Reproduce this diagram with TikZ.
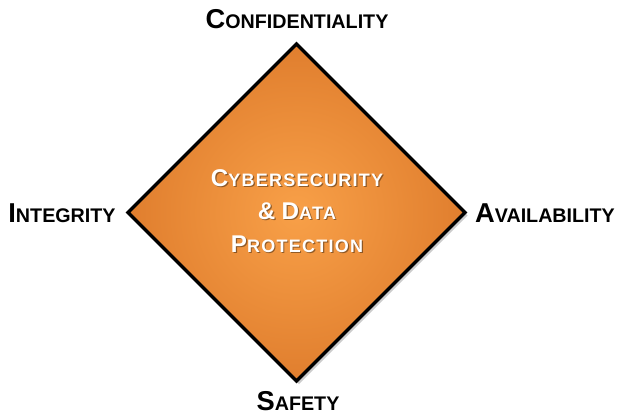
\documentclass[tikz,border=0pt]{standalone}
\usepackage{fontspec}
\setmainfont{Liberation Sans}
\definecolor{orangeC}{HTML}{F8A048}
\definecolor{orangeE}{HTML}{E07E2E}
\newcommand\Lbig[1]{{\fontsize{27.3}{30}\selectfont #1}}
\newcommand\Cbig[1]{{\fontsize{24.2}{33}\selectfont #1}}
\tikzset{
  outerlabel/.style={font=\fontsize{19.7}{22}\selectfont\bfseries, inner sep=0pt, anchor=base},
  centertext/.style={font=\fontsize{18}{33}\selectfont\bfseries\addfontfeature{LetterSpace=7}, align=center, inner sep=0pt, anchor=base},
}
\begin{document}
\begin{tikzpicture}[x=1pt,y=-1pt]
\useasboundingbox (0,0) rectangle (618,415);
\coordinate (T) at (296.5,44);
\coordinate (R) at (465,212.5);
\coordinate (B) at (296.5,381);
\coordinate (L) at (128,212.5);
% shadow
\fill[black,opacity=0.2] ([shift={(2.5,3)}]T) -- ([shift={(2.5,3)}]R) -- ([shift={(2.5,3)}]B) -- ([shift={(2.5,3)}]L) -- cycle;
\shade[inner color=orangeC, outer color=orangeE] (T) -- (R) -- (B) -- (L) -- cycle;
\draw[line width=3.5pt, line join=miter] (T) -- (R) -- (B) -- (L) -- cycle;
% outer labels
\node[outerlabel] (conf) at (297,28) {\Lbig{C}ONFIDENTIALITY};
\node[outerlabel] (integ) at (62,222) {\Lbig{I}NTEGRITY};
\node[outerlabel] (avail) at (545,222) {\Lbig{A}VAILABILITY};
\node[outerlabel] (safety) at (298,410) {\Lbig{S}AFETY};
% center text shadow
\node[centertext, text=black, opacity=0.4] (ctshadow) at (298.2,253.4) {\Cbig{C}YBERSECURITY\\\Cbig{\&} \Cbig{D}ATA\\\Cbig{P}ROTECTION};
\node[centertext, text=white] (ct) at (297,252) {\Cbig{C}YBERSECURITY\\\Cbig{\&} \Cbig{D}ATA\\\Cbig{P}ROTECTION};
\end{tikzpicture}
\end{document}
